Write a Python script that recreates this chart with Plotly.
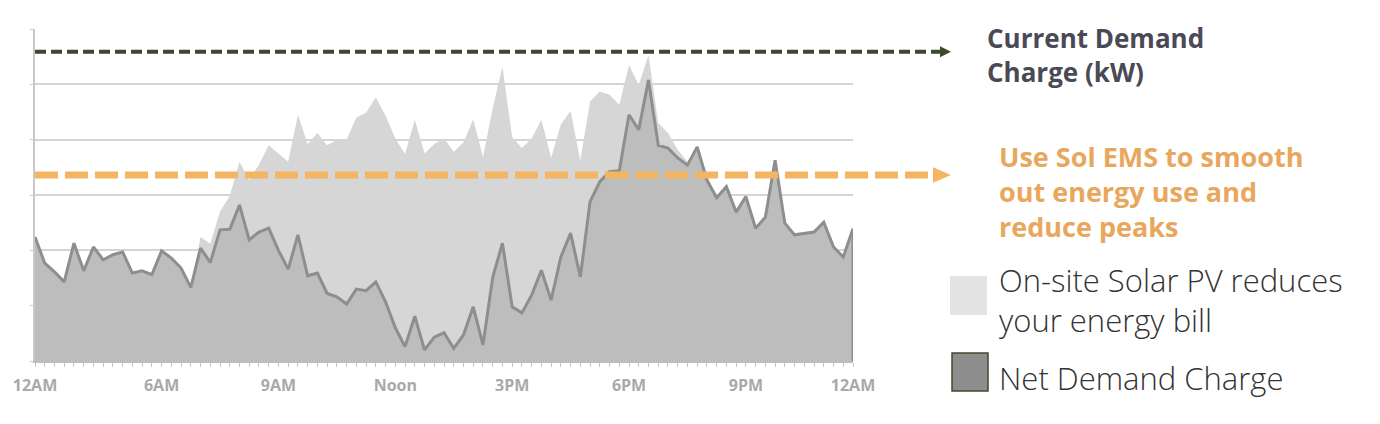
import plotly.graph_objects as go

# ---- data (one point per interval across the day) ----
net_demand = [2.24, 1.77, 1.61, 1.43, 2.13, 1.63, 2.06, 1.83, 1.92, 1.97,
              1.59, 1.63, 1.56, 1.99, 1.86, 1.68, 1.33, 2.04, 1.78, 2.37,
              2.38, 2.82, 2.19, 2.33, 2.40, 2.00, 1.66, 2.28, 1.54, 1.59,
              1.22, 1.16, 1.03, 1.30, 1.27, 1.43, 1.07, 0.60, 0.26, 0.81,
              0.20, 0.43, 0.51, 0.23, 0.47, 0.98, 0.29, 1.51, 2.13, 0.98,
              0.87, 1.19, 1.64, 1.10, 1.88, 2.31, 1.52, 2.88, 3.24, 3.42,
              3.44, 4.45, 4.18, 5.08, 3.90, 3.85, 3.67, 3.54, 3.87, 3.27,
              2.95, 3.15, 2.69, 2.97, 2.40, 2.60, 3.63, 2.49, 2.28, 2.31,
              2.33, 2.51, 2.06, 1.88, 2.39]

total_demand = [2.24, 1.77, 1.61, 1.43, 2.13, 1.63, 2.06, 1.83, 1.92, 1.97,
                1.59, 1.63, 1.56, 1.99, 1.86, 1.68, 1.33, 2.24, 2.12, 2.70,
                2.98, 3.60, 3.27, 3.55, 3.90, 3.75, 3.60, 4.45, 3.92, 4.12,
                3.90, 4.00, 4.00, 4.40, 4.49, 4.76, 4.43, 4.02, 3.74, 4.36,
                3.75, 3.92, 4.02, 3.78, 3.95, 4.37, 3.68, 4.57, 5.32, 4.05,
                3.85, 4.02, 4.36, 3.67, 4.28, 4.52, 3.62, 4.69, 4.87, 4.81,
                4.63, 5.35, 4.99, 5.53, 4.30, 4.12, 3.82, 3.60, 3.87, 3.27,
                2.95, 3.15, 2.69, 2.97, 2.40, 2.60, 3.63, 2.49, 2.28, 2.31,
                2.33, 2.51, 2.06, 1.88, 2.39]

tick_positions = [0, 13, 25, 37, 49, 61, 73, 84]
tick_labels = ["12AM", "6AM", "9AM", "Noon", "3PM", "6PM", "9PM", "12AM"]

current_demand_level = 5.59
target_level = 3.36

current_demand_text = "Current Demand<br>Charge (kW)"
sol_ems_text = "Use Sol EMS to smooth<br>out energy use and<br>reduce peaks"
solar_legend_text = "On-site Solar PV reduces<br>your energy bill"
net_legend_text = "Net Demand Charge"

x_idx = list(range(len(net_demand)))

fig = go.Figure()
fig.add_trace(go.Scatter(
    x=x_idx, y=total_demand, mode="lines", fill="tozeroy",
    fillcolor="#d6d6d6", line=dict(width=0, color="#d6d6d6"),
    hoverinfo="skip", showlegend=False))
fig.add_trace(go.Scatter(
    x=x_idx, y=net_demand, mode="lines", fill="tozeroy",
    fillcolor="#bdbdbd", line=dict(width=3, color="#8e8f8c"),
    hoverinfo="skip", showlegend=False))

shapes = []
# right edge of the net-demand area
shapes.append(dict(type="line", xref="x", yref="y", x0=x_idx[-1], x1=x_idx[-1],
                   y0=0, y1=net_demand[-1], line=dict(color="#8e8f8c", width=3),
                   layer="above"))

PLOT_W = 818.0
def px_to_paper(px):
    return (px - 35) / PLOT_W

def py_to_paper(py):
    return (361 - py) / 332.0

# dashed reference lines extending beyond the plot
shapes.append(dict(type="line", xref="paper", yref="y", x0=0, x1=px_to_paper(940),
                   y0=current_demand_level, y1=current_demand_level,
                   line=dict(color="#3b4a2c", width=4, dash="11px,5px")))
shapes.append(dict(type="path", xref="paper", yref="y",
                   path="M {a},{y1} L {b},{y} L {a},{y2} Z".format(
                       a=px_to_paper(940), b=px_to_paper(951),
                       y=current_demand_level,
                       y1=current_demand_level + 0.10, y2=current_demand_level - 0.10),
                   fillcolor="#3b4a2c", line=dict(width=0)))

shapes.append(dict(type="line", xref="paper", yref="y", x0=0, x1=px_to_paper(932),
                   y0=target_level, y1=target_level,
                   line=dict(color="#f4b562", width=7, dash="23px,7px")))
shapes.append(dict(type="path", xref="paper", yref="y",
                   path="M {a},{y1} L {b},{y} L {a},{y2} Z".format(
                       a=px_to_paper(933), b=px_to_paper(951),
                       y=target_level,
                       y1=target_level + 0.14, y2=target_level - 0.14),
                   fillcolor="#f4b562", line=dict(width=0)))

# legend swatches
shapes.append(dict(type="rect", xref="paper", yref="paper",
                   x0=px_to_paper(950), x1=px_to_paper(987),
                   y0=py_to_paper(315), y1=py_to_paper(276),
                   fillcolor="#e3e3e3", line=dict(width=0)))
shapes.append(dict(type="rect", xref="paper", yref="paper",
                   x0=px_to_paper(952), x1=px_to_paper(988),
                   y0=py_to_paper(391), y1=py_to_paper(353),
                   fillcolor="#8d8d8d", line=dict(width=1.5, color="#3c4a30")))

annotations = []
def add_text(text, x_px, y_px, font):
    annotations.append(dict(text=text, xref="paper", yref="paper",
                            x=px_to_paper(x_px), y=py_to_paper(y_px),
                            xanchor="left", yanchor="middle", align="left",
                            showarrow=False, font=font))

add_text(current_demand_text, 985, 55,
         dict(family="Open Sans", size=26, color="#4a4956", weight=700))
add_text(sol_ems_text, 997, 191,
         dict(family="Open Sans", size=27, color="#e8a75c", weight=700))
add_text(solar_legend_text, 997, 300,
         dict(family="Open Sans", size=31, color="#333333", weight=300))
add_text(net_legend_text, 997, 378,
         dict(family="Open Sans", size=31, color="#333333", weight=300))

fig.update_layout(
    width=1380, height=424,
    margin=dict(l=35, r=527, t=29, b=63),
    paper_bgcolor="white", plot_bgcolor="white",
    shapes=shapes, annotations=annotations,
    xaxis=dict(range=[0, x_idx[-1]], tickmode="array", tickvals=tick_positions,
               ticktext=tick_labels, showgrid=False, zeroline=False,
               showline=True, linecolor="#bdbdbd", linewidth=2,
               ticks="outside", ticklen=4, tickcolor="#c4c4c4",
               minor=dict(dtick=1, ticks="outside", ticklen=4, tickcolor="#c4c4c4",
                          showgrid=False),
               ticklabelstandoff=5,
               tickfont=dict(family="Open Sans", size=16, color="#a9a9a9", weight=700)),
    yaxis=dict(range=[0, 6], dtick=1, showgrid=True, gridcolor="#d4d4d4", gridwidth=2,
               zeroline=False, showline=True, linecolor="#c8c8c8", linewidth=2,
               ticks="outside", ticklen=3, tickcolor="#c8c8c8",
               showticklabels=False),
)

fig.write_html("out.html", config={"displayModeBar": False},
               post_script="document.body.style.margin='0';document.body.style.overflow='hidden';")
